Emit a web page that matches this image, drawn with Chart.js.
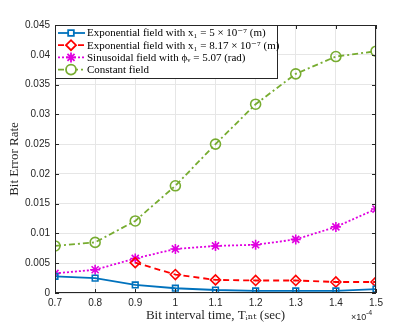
<!DOCTYPE html>
<html>
<head>
<meta charset="utf-8">
<script src="https://cdn.jsdelivr.net/npm/chart.js@4"></script>
<style>
  html, body { margin: 0; padding: 0; background: #fff; }
  #wrap { width: 415px; height: 330px; }
</style>
</head>
<body>
<div id="wrap"><canvas id="ber"></canvas></div>
<script>
// bit interval time (x 1e-4 sec)
const tInt = [0.7, 0.8, 0.9, 1.0, 1.1, 1.2, 1.3, 1.4, 1.5];
const expSmall = [0.0028, 0.0025, 0.00135, 0.0008, 0.0005, 0.00035, 0.00035, 0.00035, 0.00065];
const expLarge = [null, null, 0.0051, 0.0031, 0.0022, 0.0021, 0.0021, 0.00185, 0.00185];
const sinusoidal = [0.0033, 0.0039, 0.0058, 0.0074, 0.0079, 0.0081, 0.009, 0.0111, 0.0141];
const constant = [0.0079, 0.0085, 0.0121, 0.018, 0.025, 0.0317, 0.0368, 0.0397, 0.0406];
const yTicks = [0, 0.005, 0.01, 0.015, 0.02, 0.025, 0.03, 0.035, 0.04, 0.045];

const series = [
  { label: 'Exponential field with x\u2081 = 5 \u00d7 10\u207b\u2077 (m)', data: expSmall, color: '#0072BD', dash: [], marker: 'rect', r: 4 },
  { label: 'Exponential field with x\u2081 = 8.17 \u00d7 10\u207b\u2077 (m)', data: expLarge, color: '#FF0000', dash: [6, 4], marker: 'rectRot', r: 5 },
  { label: 'Sinusoidal field with \u03d5\u1d65 = 5.07 (rad)', data: sinusoidal, color: '#E000E0', dash: [2, 2], marker: 'star', r: 5 },
  { label: 'Constant field', data: constant, color: '#77AC30', dash: [6, 3, 2, 3], marker: 'circle', r: 5 }
];

const serif = "'Liberation Serif', 'DejaVu Serif', serif";
const sans = "'Liberation Sans', Arial, sans-serif";

// box, inner ticks, legend and the x10^-4 exponent
const extras = {
  id: 'extras',
  afterDraw(chart) {
    const ctx = chart.ctx;
    const a = chart.chartArea;
    ctx.save();
    ctx.strokeStyle = '#262626';
    ctx.lineWidth = 1;
    ctx.strokeRect(a.left + 0.5, a.top + 0.5, a.right - a.left - 1, a.bottom - a.top - 1);
    const xs = chart.scales.x, ys = chart.scales.y;
    ctx.beginPath();
    tInt.forEach(v => {
      const px = Math.round(xs.getPixelForValue(v)) + 0.5;
      ctx.moveTo(px, a.bottom); ctx.lineTo(px, a.bottom - 4);
      ctx.moveTo(px, a.top); ctx.lineTo(px, a.top + 4);
    });
    yTicks.forEach(v => {
      const py = Math.round(ys.getPixelForValue(v)) + 0.5;
      ctx.moveTo(a.left, py); ctx.lineTo(a.left + 4, py);
      ctx.moveTo(a.right, py); ctx.lineTo(a.right - 4, py);
    });
    ctx.stroke();

    // exponent
    ctx.fillStyle = '#262626';
    ctx.font = '9px ' + sans;
    ctx.textBaseline = 'alphabetic';
    ctx.textAlign = 'left';
    ctx.fillText('\u00d710', 351, 320);
    ctx.font = '7px ' + sans;
    ctx.fillText('-4', 366, 315);

    // legend
    const lx = a.left, ly = a.top, lw = 222, lh = 53;
    ctx.fillStyle = '#fff';
    ctx.fillRect(lx, ly, lw, lh);
    ctx.strokeStyle = '#262626';
    ctx.strokeRect(lx + 0.5, ly + 0.5, lw, lh);
    ctx.font = '11px ' + serif;
    ctx.textBaseline = 'middle';
    series.forEach((s, i) => {
      const y = ly + 8 + i * 12.2;
      ctx.strokeStyle = s.color;
      ctx.lineWidth = 1.8;
      ctx.setLineDash(s.dash);
      ctx.beginPath();
      ctx.moveTo(lx + 3, y); ctx.lineTo(lx + 30, y);
      ctx.stroke();
      ctx.setLineDash([]);
      ctx.fillStyle = '#fff';
      Chart.helpers.drawPoint(ctx, { pointStyle: s.marker, radius: s.r, borderWidth: 1.8 }, lx + 16, y);
      ctx.fillStyle = '#000';
      ctx.fillText(s.label, lx + 32, y + 0.5);
    });
    ctx.restore();
  }
};

new Chart(document.getElementById('ber'), {
  type: 'line',
  data: {
    datasets: series.map(s => ({
      label: s.label,
      data: tInt.map((t, i) => ({ x: t, y: s.data[i] })),
      borderColor: s.color,
      backgroundColor: 'rgba(0,0,0,0)',
      borderWidth: 1.8,
      borderDash: s.dash,
      pointStyle: s.marker,
      pointRadius: s.r,
      pointBorderWidth: 1.6,
      pointBorderColor: s.color,
      pointBackgroundColor: 'rgba(0,0,0,0)',
      spanGaps: false,
      tension: 0
    }))
  },
  options: {
    responsive: true,
    maintainAspectRatio: false,
    animation: false,
    layout: { padding: { top: 25, right: 39, left: 0, bottom: 0 } },
    plugins: { legend: { display: false }, tooltip: { enabled: false } },
    scales: {
      x: {
        type: 'linear',
        min: 0.7, max: 1.5,
        afterBuildTicks: sc => { sc.ticks = tInt.map(v => ({ value: v })); },
        afterFit: sc => { sc.height = 37; },
        grid: { color: '#e6e6e6', drawTicks: false },
        border: { display: false },
        ticks: {
          padding: 4,
          color: '#262626',
          font: { family: sans, size: 10 },
          maxRotation: 0,
          callback: v => String(Math.round(v * 10) / 10)
        },
        title: {
          display: true,
          text: 'Bit interval time, T\u1d62\u2099\u209c (sec)',
          color: '#262626',
          font: { family: serif, size: 13 },
          padding: { top: 0, bottom: 7 }
        }
      },
      y: {
        min: 0, max: 0.045,
        afterBuildTicks: sc => { sc.ticks = yTicks.map(v => ({ value: v })); },
        afterFit: sc => { sc.width = 55; },
        grid: { color: '#e6e6e6', drawTicks: false },
        border: { display: false },
        ticks: {
          padding: 5,
          color: '#262626',
          font: { family: sans, size: 10 },
          callback: v => String(parseFloat(v.toFixed(3)))
        },
        title: {
          display: true,
          text: 'Bit Error Rate',
          color: '#262626',
          font: { family: serif, size: 13 },
          padding: { top: 7, bottom: 0 }
        }
      }
    }
  },
  plugins: [extras]
});
</script>
</body>
</html>
